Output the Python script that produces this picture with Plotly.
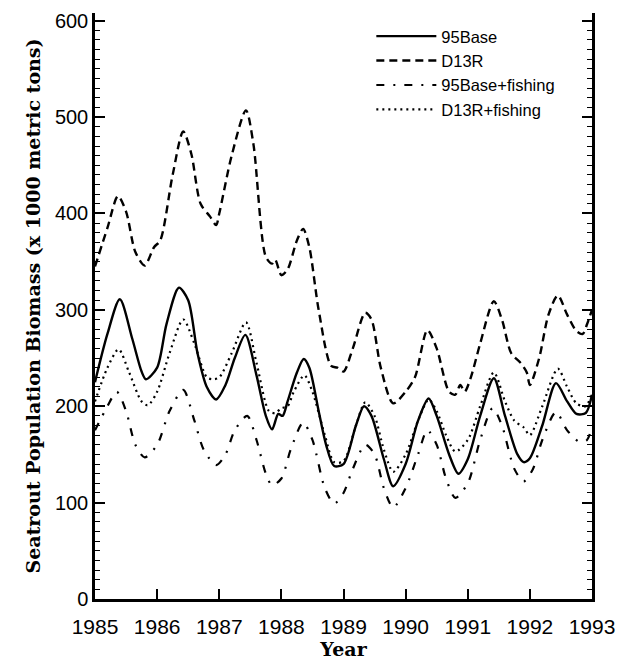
import plotly.graph_objects as go

# 95Base (solid)
base_x = [1985.0, 1985.2, 1985.4, 1985.6, 1985.75, 1985.82, 1986.0, 1986.15, 1986.35, 1986.5, 1986.65, 1986.8, 1986.95,
          1987.1, 1987.25, 1987.42, 1987.6, 1987.75, 1987.85, 1987.95, 1988.02, 1988.1, 1988.25, 1988.36, 1988.45,
          1988.6, 1988.72, 1988.85, 1989.0, 1989.2, 1989.33, 1989.45, 1989.65, 1989.8, 1990.0, 1990.2, 1990.37,
          1990.5, 1990.7, 1990.85, 1991.0, 1991.2, 1991.42, 1991.6, 1991.8, 1991.9, 1992.0, 1992.2, 1992.42,
          1992.6, 1992.75, 1992.9, 1993.0]
base_y = [225, 275, 311, 270, 236, 228, 240, 285, 323, 310, 255, 220, 207,
          222, 250, 274, 232, 190, 176, 192, 190, 205, 235, 249, 240,
          195, 160, 138, 140, 180, 200, 190, 145, 117, 140, 185, 208,
          190, 150, 130, 145, 190, 229, 190, 150, 142, 146, 180, 224,
          205, 192, 193, 212]

# D13R (dashed)
d13_x = [1985.0, 1985.2, 1985.37, 1985.5, 1985.65, 1985.8, 1985.95, 1986.05, 1986.25, 1986.42, 1986.55, 1986.7,
         1986.85, 1986.95, 1987.0, 1987.2, 1987.43, 1987.55, 1987.75, 1987.85, 1987.9, 1988.0, 1988.1, 1988.25,
         1988.35, 1988.45, 1988.6, 1988.8, 1988.9, 1989.0, 1989.15, 1989.35, 1989.45, 1989.6, 1989.8, 1990.0,
         1990.15, 1990.35, 1990.5, 1990.7, 1990.8, 1990.88, 1990.95, 1991.05, 1991.2, 1991.42, 1991.55, 1991.7,
         1991.85, 1991.95, 1992.0, 1992.15, 1992.3, 1992.45, 1992.6, 1992.75, 1992.85, 1992.92, 1993.0]
d13_y = [345, 385, 418, 402, 360, 346, 365, 372, 440, 485, 462, 410,
         397, 388, 400, 460, 507, 472, 355, 348, 352, 336, 342, 372,
         384, 365, 300, 242, 240, 236, 260, 297, 290, 240, 203, 215,
         230, 279, 260, 215, 212, 222, 215, 230, 265, 309, 290, 255,
         245, 235, 222, 250, 295, 315, 295, 278, 275, 285, 300]

# 95Base+fishing (dash-dot)
bf_x = [1985.0, 1985.2, 1985.35, 1985.5, 1985.65, 1985.8, 1986.0, 1986.2, 1986.42, 1986.6, 1986.75, 1986.95,
        1987.1, 1987.25, 1987.45, 1987.6, 1987.75, 1987.85, 1988.0, 1988.15, 1988.35, 1988.5, 1988.7, 1988.85,
        1989.0, 1989.15, 1989.35, 1989.5, 1989.65, 1989.8, 1990.0, 1990.2, 1990.35, 1990.5, 1990.65, 1990.8,
        1991.0, 1991.2, 1991.4, 1991.55, 1991.75, 1991.9, 1992.05, 1992.2, 1992.42, 1992.6, 1992.8, 1992.92, 1993.0]
bf_y = [175, 200, 215, 195, 160, 147, 160, 195, 217, 185, 155, 139,
        150, 175, 190, 165, 130, 118, 125, 155, 183, 165, 115, 99,
        110, 135, 160, 150, 115, 95, 115, 150, 175, 160, 125, 105,
        120, 165, 198, 180, 135, 122, 135, 165, 194, 175, 163, 165, 180]

# D13R+fishing (dotted)
df_x = [1985.0, 1985.2, 1985.38, 1985.55, 1985.75, 1985.85, 1986.0, 1986.2, 1986.42, 1986.6, 1986.8, 1986.9,
        1987.0, 1987.2, 1987.43, 1987.6, 1987.8, 1987.9, 1988.0, 1988.1, 1988.2, 1988.37, 1988.5, 1988.7,
        1988.85, 1989.0, 1989.2, 1989.35, 1989.5, 1989.65, 1989.8, 1990.0, 1990.2, 1990.37, 1990.5, 1990.65,
        1990.8, 1991.0, 1991.2, 1991.42, 1991.6, 1991.75, 1991.9, 1992.0, 1992.2, 1992.45, 1992.6, 1992.75,
        1992.9, 1993.0]
df_y = [205, 240, 259, 235, 205, 201, 215, 255, 290, 265, 230, 228,
        230, 255, 287, 245, 195, 193, 198, 200, 215, 232, 215, 170,
        142, 143, 180, 204, 190, 155, 132, 150, 185, 207, 195, 170,
        153, 165, 200, 235, 205, 185, 178, 170, 200, 239, 220, 203,
        200, 215]

year_ticks = list(range(1985, 1994))
y_ticks = list(range(0, 700, 100))

fig = go.Figure()
common = dict(mode="lines", line_shape="spline")
fig.add_trace(go.Scatter(x=base_x, y=base_y, name="95Base",
                         line=dict(color="black", width=2.4, smoothing=0.8), **common))
fig.add_trace(go.Scatter(x=d13_x, y=d13_y, name="D13R",
                         line=dict(color="black", width=2.4, dash="8px,5px", smoothing=0.8), **common))
fig.add_trace(go.Scatter(x=bf_x, y=bf_y, name="95Base+fishing",
                         line=dict(color="black", width=2.2, dash="8px,9px,2px,9px", smoothing=0.8), **common))
fig.add_trace(go.Scatter(x=df_x, y=df_y, name="D13R+fishing",
                         line=dict(color="black", width=2.2, dash="2px,4px", smoothing=0.8), **common))

sans = "Liberation Sans, Arial"
serif = "DejaVu Serif, Liberation Serif, Times New Roman"

fig.update_layout(
    width=625, height=665,
    margin=dict(l=95, r=28, t=10, b=62),
    paper_bgcolor="white", plot_bgcolor="white",
    font=dict(family=sans, color="black"),
    showlegend=True,
    legend=dict(x=0.556, y=0.99, xanchor="left", yanchor="top",
                bgcolor="rgba(0,0,0,0)", font=dict(size=16.5, family=sans),
                tracegroupgap=0, itemwidth=60),
)
fig.update_xaxes(
    range=[1985, 1993], tickmode="array", tickvals=year_ticks, ticktext=[str(v) for v in year_ticks],
    showgrid=False, zeroline=False, showline=True, linecolor="black", linewidth=2.5,
    ticks="inside", ticklen=10, tickwidth=1.5, tickcolor="black", mirror=False,
    tickfont=dict(size=21, family=sans), ticklabelstandoff=7,
    title=dict(text="<b>Year</b>", font=dict(size=19, family=serif), standoff=4),
)
fig.update_yaxes(
    range=[0, 608], tickmode="array", tickvals=y_ticks, ticktext=[str(v) for v in y_ticks],
    showgrid=False, zeroline=False, showline=True, linecolor="black", linewidth=2.5,
    ticks="inside", ticklen=10, tickwidth=1.5, tickcolor="black", mirror="ticks",
    minor=dict(dtick=10, ticks="inside", ticklen=5, tickwidth=1.2, tickcolor="black", showgrid=False),
    tickfont=dict(size=20, family=sans),
    title=dict(text="<b>Seatrout Population Biomass (x 1000 metric tons)</b>",
               font=dict(size=19, family=serif), standoff=10),
)

fig.write_html("out.html")
